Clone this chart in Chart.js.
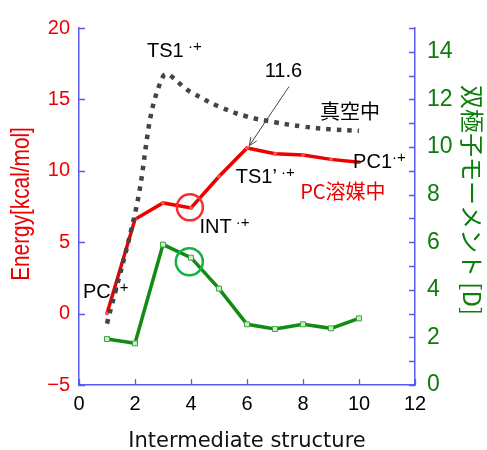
<!DOCTYPE html>
<html>
<head>
<meta charset="utf-8">
<script src="https://cdn.jsdelivr.net/npm/chart.js@4"></script>
<style>
  html, body { margin: 0; padding: 0; background: #fff; }
  #myChart { display: block; }
</style>
</head>
<body>
<canvas id="myChart" width="487" height="450"></canvas>
<script>
// data
const steps = [1, 2, 3, 4, 5, 6, 7, 8, 9, 10]
const energyPC = [0, 6.6, 7.75, 7.4, 9.6, 11.6, 11.2, 11.1, 10.8, 10.6]
const energyVacuum = [-0.7, 7.0, 16.6, 15.5, 14.5, 13.8, 13.4, 13.1, 12.9, 12.8]
const dipole = [1.93, 1.75, 5.9, 5.35, 4.05, 2.55, 2.35, 2.55, 2.38, 2.8]
const xTicks = [0, 2, 4, 6, 8, 10, 12]
const energyTicks = [-5, 0, 5, 10, 15, 20]
const dipoleTicks = [0, 2, 4, 6, 8, 10, 12, 14]
const dipoleMax = 15

const toPoints = (ys) => steps.map((x, i) => ({ x: x, y: ys[i] }))

const AXIS = '#5a5aee'
const RED = '#ee0000'
const GREEN = '#0b7d0b'
const SANS = '"Liberation Sans", Arial, sans-serif'
const JP = '"Noto Sans CJK JP", "Liberation Sans", sans-serif'

// labels on the plot, in data units (x, energy)
const notes = [
  { text: 'TS1', sup: ' ·+', x: 2.43, y: 18.0, color: '#000' },
  { text: '11.6', x: 7.3, y: 16.55, color: '#000', align: 'center' },
  { text: '真空中', x: 9.68, y: 13.6, color: '#000', align: 'center', font: JP },
  { text: 'PC1', sup: '·+', x: 9.79, y: 10.2, color: '#000' },
  { text: 'TS1’', sup: ' ·+', x: 5.6, y: 9.15, color: '#000' },
  { text: 'PC溶媒中', x: 7.9, y: 8.0, color: RED, font: JP },
  { text: 'INT', sup: ' ·+', x: 4.3, y: 5.64, color: '#000' },
  { text: 'PC', sup: ' ·+', x: 0.14, y: 1.09, color: '#000' }
]

const tickMarks = {
  id: 'tickMarks',
  afterDatasetsDraw(chart) {
    const { ctx, chartArea: a, scales } = chart
    ctx.save()
    ctx.strokeStyle = AXIS
    ctx.lineWidth = 1.3
    ctx.beginPath()
    energyTicks.forEach(v => {
      const y = Math.round(scales.y.getPixelForValue(v)) + 0.5
      ctx.moveTo(a.left, y); ctx.lineTo(a.left + 6, y)
    })
    xTicks.forEach(v => {
      const x = Math.round(scales.x.getPixelForValue(v)) + 0.5
      ctx.moveTo(x, a.bottom); ctx.lineTo(x, a.bottom - 6)
    })
    for (let v = 0; v <= dipoleMax; v++) {
      const y = Math.round(scales.y2.getPixelForValue(v)) + 0.5
      ctx.moveTo(a.right, y); ctx.lineTo(a.right - 6, y)
    }
    ctx.stroke()

    // circles round the INT points
    ctx.lineWidth = 2.5
    ctx.strokeStyle = '#ff2a2a'
    ctx.beginPath()
    ctx.arc(scales.x.getPixelForValue(3.96), scales.y.getPixelForValue(7.44), 13, 0, Math.PI * 2)
    ctx.stroke()
    ctx.strokeStyle = '#14b04a'
    ctx.beginPath()
    ctx.arc(scales.x.getPixelForValue(3.94), scales.y2.getPixelForValue(5.18), 13.5, 0, Math.PI * 2)
    ctx.stroke()

    // arrow to 11.6
    const x1 = scales.x.getPixelForValue(7.5), y1 = scales.y.getPixelForValue(15.9)
    const x2 = scales.x.getPixelForValue(6.08), y2 = scales.y.getPixelForValue(11.75)
    ctx.strokeStyle = '#444'
    ctx.lineWidth = 1
    ctx.beginPath()
    ctx.moveTo(x1, y1); ctx.lineTo(x2, y2)
    const ang = Math.atan2(y2 - y1, x2 - x1)
    ctx.moveTo(x2, y2); ctx.lineTo(x2 - 9 * Math.cos(ang - 0.4), y2 - 9 * Math.sin(ang - 0.4))
    ctx.moveTo(x2, y2); ctx.lineTo(x2 - 9 * Math.cos(ang + 0.4), y2 - 9 * Math.sin(ang + 0.4))
    ctx.stroke()

    // text notes
    notes.forEach(n => {
      const px = scales.x.getPixelForValue(n.x)
      const py = scales.y.getPixelForValue(n.y)
      ctx.fillStyle = n.color
      ctx.font = '20px ' + (n.font || SANS)
      ctx.textAlign = n.align || 'left'
      ctx.textBaseline = 'alphabetic'
      ctx.fillText(n.text, px, py)
      if (n.sup) {
        const w = ctx.measureText(n.text).width
        ctx.font = '15px ' + SANS
        ctx.textAlign = 'left'
        ctx.fillText(n.sup, px + w, py - 6)
      }
    })

    // axis titles
    ctx.fillStyle = RED
    ctx.font = '26px ' + SANS
    ctx.textAlign = 'center'
    ctx.textBaseline = 'middle'
    ctx.save()
    ctx.translate(22, 204)
    ctx.rotate(-Math.PI / 2)
    ctx.scale(0.8, 1)
    ctx.fillText('Energy[kcal/mol]', 0, 0)
    ctx.restore()

    ctx.fillStyle = GREEN
    ctx.font = '24px ' + JP
    ctx.save()
    ctx.translate(472, 200)
    ctx.rotate(Math.PI / 2)
    ctx.fillText('双極子モーメント [D]', 0, 0)
    ctx.restore()

    ctx.fillStyle = '#111'
    ctx.font = '21px "DejaVu Sans", sans-serif'
    ctx.textBaseline = 'alphabetic'
    ctx.fillText('Intermediate structure', 247, 447)
    ctx.restore()
  }
}

const chart = new Chart(document.querySelector('#myChart').getContext('2d'), {
  type: 'line',
  data: {
    datasets: [
      {
        label: '真空中',
        data: toPoints(energyVacuum),
        yAxisID: 'y',
        borderColor: '#444444',
        borderWidth: 4.5,
        borderDash: [4.5, 6],
        borderCapStyle: 'butt',
        tension: 0.4,
        pointRadius: 0,
        order: 0
      },
      {
        label: 'PC溶媒中',
        data: toPoints(energyPC),
        yAxisID: 'y',
        borderColor: RED,
        borderWidth: 3.5,
        tension: 0,
        pointRadius: 2,
        pointBackgroundColor: '#ff5050',
        pointBorderColor: '#ff5050',
        pointBorderWidth: 0,
        order: 1
      },
      {
        label: '双極子モーメント',
        data: toPoints(dipole),
        yAxisID: 'y2',
        borderColor: '#138a13',
        borderWidth: 3.5,
        tension: 0,
        pointStyle: 'rect',
        pointRadius: 3.5,
        pointBackgroundColor: '#cfeccf',
        pointBorderColor: '#3aa63a',
        pointBorderWidth: 1,
        order: 2
      }
    ]
  },
  options: {
    responsive: false,
    animation: false,
    layout: { padding: { top: 28, left: 0, right: 0, bottom: 0 } },
    plugins: { legend: { display: false }, tooltip: { enabled: false } },
    scales: {
      x: {
        type: 'linear',
        min: xTicks[0],
        max: xTicks[xTicks.length - 1],
        afterFit: (s) => { s.height = 65 },
        grid: { display: false, drawTicks: false },
        border: { display: true, color: AXIS, width: 1.5 },
        ticks: { stepSize: 2, padding: 7, color: '#000', font: { family: SANS, size: 20 } }
      },
      y: {
        position: 'left',
        min: energyTicks[0],
        max: energyTicks[energyTicks.length - 1],
        afterFit: (s) => { s.width = 79 },
        grid: { display: false, drawTicks: false },
        border: { display: true, color: AXIS, width: 1.5 },
        ticks: {
          stepSize: 5, padding: 9, color: RED, font: { family: SANS, size: 20 },
          callback: (v) => String(v).replace('-', '−')
        }
      },
      y2: {
        position: 'right',
        min: 0,
        max: dipoleMax,
        afterFit: (s) => { s.width = 72 },
        grid: { display: false, drawTicks: false },
        border: { display: true, color: AXIS, width: 1.5 },
        ticks: {
          stepSize: 1, autoSkip: false, padding: 12, color: GREEN, font: { family: SANS, size: 23 },
          callback: (v) => dipoleTicks.includes(v) ? String(v) : ''
        }
      }
    }
  },
  plugins: [tickMarks]
})
</script>
</body>
</html>
